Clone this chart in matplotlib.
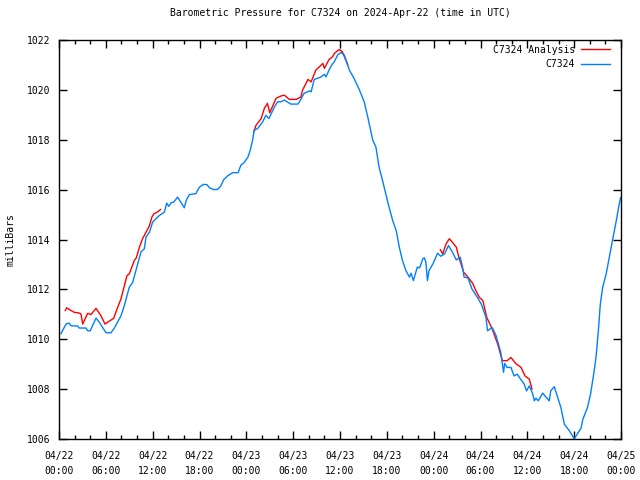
import numpy as np
import matplotlib
matplotlib.use('Agg')
import matplotlib.pyplot as plt
import matplotlib.dates as mdates
import datetime

# hours after 2024-04-22 00:00 UTC, pressure in mb
obs_hours = [0.26, 0.9, 1.3, 1.54, 2.4, 2.6, 3.46, 3.67, 4.0, 4.74, 5.17, 6.02, 6.66, 7.09,
             7.94, 8.37, 9.0, 9.44, 10.08, 10.5, 10.93, 11.15, 11.6, 12.0, 12.4, 12.85, 13.5,
             13.8, 14.05, 14.4, 14.7, 15.2, 15.6, 16.05, 16.3, 16.7, 17.55, 17.8, 18.0, 18.5,
             18.96, 19.25, 19.8, 20.3, 20.7, 21.1, 21.6, 22.25, 22.95, 23.3, 23.7, 24.2, 24.5,
             24.8, 25.0, 25.45, 26.1, 26.5, 26.9, 27.6, 28.0, 28.4, 28.86, 29.7, 30.6, 30.8,
             31.4, 32.1, 32.3, 32.7, 33.6, 34.0, 34.2, 34.8, 35.27, 35.7, 36.1, 36.55, 37.2,
             37.8, 38.5, 39.1, 39.55, 40.2, 40.6, 41.0, 41.5, 42.2, 42.75, 43.2, 43.6, 44.0,
             44.45, 44.9, 45.1, 45.4, 45.9, 46.2, 46.6, 46.8, 47.0, 47.2, 47.4, 47.9, 48.5,
             48.9, 49.4, 49.9, 50.4, 50.9, 51.4, 51.7, 51.9, 52.4, 52.9, 53.6, 54.1, 54.7,
             54.9, 55.5, 56.0, 56.6, 56.95, 57.1, 57.4, 57.9, 58.3, 58.7, 59.0, 59.6, 59.9,
             60.25, 60.7, 60.9, 61.1, 61.4, 61.97, 62.6, 62.8, 63.0, 63.45, 63.9, 64.3, 64.75,
             65.4, 65.8, 66.0, 66.5, 66.9, 67.1, 67.7, 68.1, 68.5, 68.8, 69.1, 69.35, 69.65,
             70.1, 70.5, 70.95, 71.4, 71.7, 71.95]
obs_mb = [1010.23, 1010.61, 1010.65, 1010.54, 1010.53, 1010.45, 1010.45, 1010.34, 1010.34,
          1010.85, 1010.68, 1010.26, 1010.26, 1010.45, 1010.94, 1011.35, 1012.08, 1012.28,
          1013.02, 1013.5, 1013.63, 1014.1, 1014.3, 1014.7, 1014.83, 1014.96, 1015.1, 1015.46,
          1015.33, 1015.48, 1015.5, 1015.7, 1015.5, 1015.27, 1015.57, 1015.8, 1015.84, 1016.0,
          1016.1, 1016.21, 1016.2, 1016.08, 1016.0, 1016.01, 1016.13, 1016.4, 1016.55,
          1016.68, 1016.68, 1016.98, 1017.08, 1017.3, 1017.58, 1017.98, 1018.38, 1018.45,
          1018.72, 1018.98, 1018.85, 1019.32, 1019.52, 1019.52, 1019.59, 1019.43, 1019.43,
          1019.52, 1019.86, 1019.96, 1019.92, 1020.42, 1020.52, 1020.63, 1020.52, 1020.93,
          1021.13, 1021.4, 1021.5, 1021.4, 1020.79, 1020.46, 1019.99, 1019.52, 1018.92,
          1017.98, 1017.71, 1016.91, 1016.3, 1015.4, 1014.76, 1014.36, 1013.69, 1013.16,
          1012.75, 1012.49, 1012.65, 1012.35, 1012.89, 1012.86, 1013.22, 1013.27, 1013.09,
          1012.35, 1012.75, 1013.02, 1013.45, 1013.33, 1013.42, 1013.76, 1013.49, 1013.18,
          1013.29, 1012.89, 1012.49, 1012.46, 1012.02, 1011.68, 1011.41, 1010.88, 1010.34,
          1010.47, 1010.14, 1009.47, 1008.67, 1009.03, 1008.87, 1008.87, 1008.53, 1008.6,
          1008.46, 1008.2, 1007.93, 1008.13, 1007.8, 1007.53, 1007.64, 1007.53, 1007.84,
          1007.6, 1007.53, 1007.93, 1008.1, 1007.66, 1007.26, 1006.59, 1006.32, 1006.12,
          1006.0, 1006.25, 1006.45, 1006.78, 1007.26, 1007.8, 1008.6, 1009.27, 1010.34,
          1011.41, 1012.08, 1012.62, 1013.29, 1014.03, 1014.76, 1015.3, 1015.68]

# analysis series has gaps (nan breaks the line)
ana_hours = [0.81, 0.98, 1.54, 1.96, 2.6, 2.82, 3.03, 3.67, 4.1, 4.74, 5.38, 5.89, 6.66, 7.0,
             7.52, 7.94, 8.71, 9.0, 9.65, 9.9, 10.3, 10.7, 11.15, 11.6, 11.9, 12.15, 12.6, 13.0,
             18.0,
             24.94, 25.24, 25.9, 26.3, 26.7, 27.0, 27.8, 28.4, 28.86, 29.5, 30.4, 31.0, 31.2,
             31.9, 32.3, 32.9, 33.8, 34.0, 34.6, 35.06, 35.27, 35.9, 36.3, 37.0,
             43.0,
             48.85, 49.15, 49.6, 50.0, 50.4, 50.9, 51.2, 51.5, 51.84, 52.4, 53.0, 53.4, 53.85,
             54.3, 54.8, 55.5, 56.2, 56.8, 57.4, 57.9, 58.5, 59.2, 59.7, 60.25, 60.6]
ana_mb = [1011.15, 1011.26, 1011.15, 1011.08, 1011.05, 1011.01, 1010.61, 1011.04, 1010.99,
          1011.24, 1010.94, 1010.61, 1010.77, 1010.84, 1011.28, 1011.62, 1012.55, 1012.62,
          1013.16, 1013.26, 1013.69, 1014.03, 1014.29, 1014.56, 1014.9, 1015.03, 1015.1, 1015.2,
          np.nan,
          1018.31, 1018.58, 1018.85, 1019.25, 1019.46, 1019.08, 1019.66, 1019.75, 1019.79,
          1019.62, 1019.62, 1019.72, 1019.99, 1020.42, 1020.32, 1020.79, 1021.06, 1020.86,
          1021.22, 1021.33, 1021.46, 1021.62, 1021.53, 1021.0,
          np.nan,
          1013.59, 1013.42, 1013.83, 1014.03, 1013.89, 1013.69, 1013.32, 1013.02, 1012.69,
          1012.49, 1012.24, 1011.95, 1011.68, 1011.55, 1010.88, 1010.41, 1009.81, 1009.14,
          1009.14, 1009.27, 1009.03, 1008.87, 1008.53, 1008.4, 1008.0]

start = datetime.datetime(2024, 4, 22, 0, 0)
obs_t = [start + datetime.timedelta(hours=h) for h in obs_hours]
ana_t = [start + datetime.timedelta(hours=h) for h in ana_hours]

plt.rcParams['font.family'] = ['DejaVu Sans Mono']
plt.rcParams['font.size'] = 7

fig = plt.figure(figsize=(6.4, 4.8), dpi=100)
ax = fig.add_axes([59 / 640, 41 / 480, 562 / 640, 399 / 480])

ax.plot(ana_t, ana_mb, color='#ff0000', lw=1, label='C7324 Analysis')
ax.plot(obs_t, obs_mb, color='#0080ff', lw=1, label='C7324')

ax.set_xlim(start, start + datetime.timedelta(hours=72))
ax.set_ylim(1006, 1022)
ax.set_yticks(np.arange(1006, 1023, 2))

ax.xaxis.set_major_locator(mdates.HourLocator(byhour=[0, 6, 12, 18]))
ax.xaxis.set_minor_locator(mdates.HourLocator(byhour=range(0, 24, 2)))
ax.xaxis.set_major_formatter(mdates.DateFormatter('%m/%d\n%H:%M'))

ax.tick_params(which='both', direction='in', top=True, right=True, width=1, color='black')
ax.tick_params(which='major', length=6)
ax.tick_params(axis='x', which='major', pad=9)
ax.tick_params(axis='y', which='major', pad=6)
ax.tick_params(which='minor', length=3)
for lbl in ax.get_xticklabels():
    lbl.set_linespacing(1.6)
for s in ax.spines.values():
    s.set_linewidth(1)

ax.set_ylabel('milliBars')
ax.yaxis.set_label_coords(-0.078, 0.5)
ax.set_title('Barometric Pressure for C7324 on 2024-Apr-22 (time in UTC)', fontsize=7, pad=17)

ax.legend(loc='upper right', bbox_to_anchor=(1 - 6 / 562, 1.0), frameon=False,
          markerfirst=False, handlelength=3.0, borderaxespad=0.3, borderpad=0.2,
          labelspacing=0.45, handletextpad=0.6)

plt.savefig('out.png', dpi=100)
